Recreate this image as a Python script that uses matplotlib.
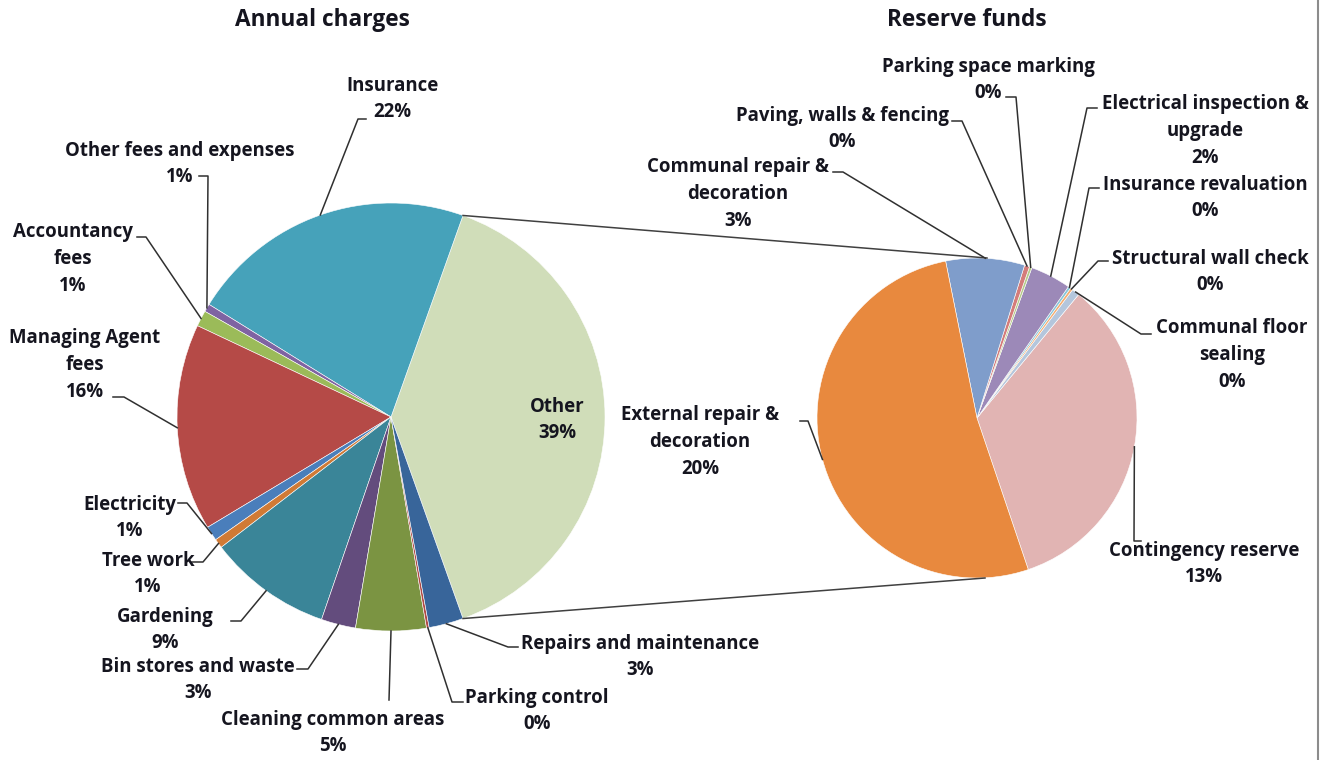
import numpy as np
import matplotlib
matplotlib.use("Agg")
import matplotlib.pyplot as plt

plt.rcParams["font.family"] = ["Open Sans", "DejaVu Sans"]

# ── data ──────────────────────────────────────────────────────────────────
annual_labels = ["Insurance", "Other fees and expenses", "Accountancy\nfees",
                 "Managing Agent\nfees", "Electricity", "Tree work", "Gardening",
                 "Bin stores and waste", "Cleaning common areas",
                 "Parking control", "Repairs and maintenance"]
annual_values = [21.6, 0.6, 1.2, 15.6, 1.1, 0.7, 9.3, 2.6, 5.3, 0.2, 2.6]
annual_colors = ["#46a2ba", "#7f63a2", "#9bbb59", "#b54a47", "#4a7ebb", "#d07a35",
                 "#3a8598", "#634c7d", "#7b9442", "#b04a45", "#38659a"]

reserve_labels = ["Contingency reserve", "Communal floor\nsealing",
                  "Structural wall check", "Insurance revaluation",
                  "Electrical inspection &\nupgrade", "Parking space marking",
                  "Paving, walls & fencing", "Communal repair &\ndecoration",
                  "External repair &\ndecoration"]
reserve_values = [13.2, 0.3, 0.1, 0.1, 1.6, 0.1, 0.2, 3.1, 20.3]
reserve_colors = ["#e1b4b3", "#b4c6dc", "#f5ac6f", "#86c6d9", "#9c89b8",
                  "#b5cc8a", "#d47c7a", "#7f9dcb", "#e8893e"]

other_value = sum(reserve_values)
total = sum(annual_values) + other_value

H = 760
def up(y):
    return H - y

fig = plt.figure(figsize=(13.26, 7.6), dpi=100)
ax = fig.add_axes([0, 0, 1, 1])

c1, r1 = (391, up(417)), 214
c2, r2 = (977, up(418)), 160

# left pie: "Other" centred on the right
left_vals = [other_value] + annual_values
left_cols = ["#d0ddb9"] + annual_colors
start1 = -other_value / total * 180
w1, _ = ax.pie(left_vals, colors=left_cols, startangle=start1, counterclock=True,
               center=c1, radius=r1, frame=True,
               wedgeprops=dict(edgecolor="white", linewidth=0.4))

w2, _ = ax.pie(reserve_values, colors=reserve_colors, startangle=-71.3,
               counterclock=True, center=c2, radius=r2, frame=True,
               wedgeprops=dict(edgecolor="white", linewidth=0.4))

# connector lines between the pies
t_top, t_bot = np.deg2rad(w1[0].theta2), np.deg2rad(w1[0].theta1)
ax.plot([c1[0] + r1 * np.cos(t_top), c2[0] + 10], [c1[1] + r1 * np.sin(t_top), c2[1] + r2],
        color="#404040", lw=1.1)
ax.plot([c1[0] + r1 * np.cos(t_bot), c2[0] + 8], [c1[1] + r1 * np.sin(t_bot), c2[1] - r2],
        color="#404040", lw=1.1)


def pct(v):
    return f"{v / total * 100:.0f}%"


def rim(w, c, r):
    t = np.deg2rad((w.theta1 + w.theta2) / 2)
    return c[0] + r * np.cos(t), c[1] + r * np.sin(t)


txt = dict(fontsize=13.4, fontweight="bold", color="#15151f", ha="center",
           va="center", linespacing=1.45)
dy = 2  # small nudge so the text sits like the original

# label text positions and leader elbows (pixel coords)
left_pos = [
    ((392, 97), [(366, 119), (358, 119)]),
    ((180, 162), [(199, 176), (208, 176)]),
    ((73, 257), [(137, 237), (146, 237)]),
    ((85, 363), [(113, 397), (124, 397)]),
    ((130, 516), [(178, 503), (187, 503)]),
    ((148, 572), [(192, 562), (203, 562)]),
    ((165, 628), [(231, 621), (241, 621)]),
    ((198, 678), [(297, 669), (308, 669)]),
    ((333, 731), [(389, 700)]),
    ((537, 709), [(463, 702), (452, 702)]),
    ((640, 655), [(518, 647), (508, 647)]),
]
for i, (lab, val) in enumerate(zip(annual_labels, annual_values)):
    (tx, ty), elbow = left_pos[i]
    ax.text(tx, up(ty + dy), f"{lab}\n{pct(val)}", **txt)
    ex, ey = rim(w1[i + 1], c1, r1)
    xs = [p[0] for p in elbow] + [ex]
    ys = [up(p[1]) for p in elbow] + [ey]
    ax.plot(xs, ys, color="#303030", lw=1.1)

ax.text(557, up(418 + dy), f"Other\n{pct(other_value)}", **txt)

right_pos = [
    ((1204, 562), [(1141, 541), (1134, 541)]),
    ((1232, 353), [(1151, 334), (1141, 334)]),
    ((1210, 270), [(1108, 261), (1098, 261)]),
    ((1205, 196), [(1099, 188), (1089, 188)]),
    ((1205, 129), [(1097, 108), (1087, 108)]),
    ((988, 78), [(1006, 97), (1016, 97)]),
    ((842, 127), [(952, 121), (962, 121)]),
    ((738, 192), [(833, 172), (843, 172)]),
    ((700, 440), [(800, 421), (808, 421)]),
]
for i, (lab, val) in enumerate(zip(reserve_labels, reserve_values)):
    (tx, ty), elbow = right_pos[i]
    ax.text(tx, up(ty + dy), f"{lab}\n{pct(val)}", **txt)
    ex, ey = rim(w2[i], c2, r2)
    xs = [p[0] for p in elbow] + [ex]
    ys = [up(p[1]) for p in elbow] + [ey]
    ax.plot(xs, ys, color="#303030", lw=1.1)

ax.text(322, up(20), "Annual charges", fontsize=16.3, fontweight="bold",
        color="#15151f", ha="center", va="center")
ax.text(967, up(20), "Reserve funds", fontsize=16.3, fontweight="bold",
        color="#15151f", ha="center", va="center")

# chart border on the right edge
ax.plot([1318, 1318], [0, H], color="#8c8c8c", lw=1.5)

ax.set_xlim(0, 1326)
ax.set_ylim(0, H)
ax.set_aspect("auto")
ax.axis("off")

plt.savefig("out.png", dpi=100)
plt.close()
